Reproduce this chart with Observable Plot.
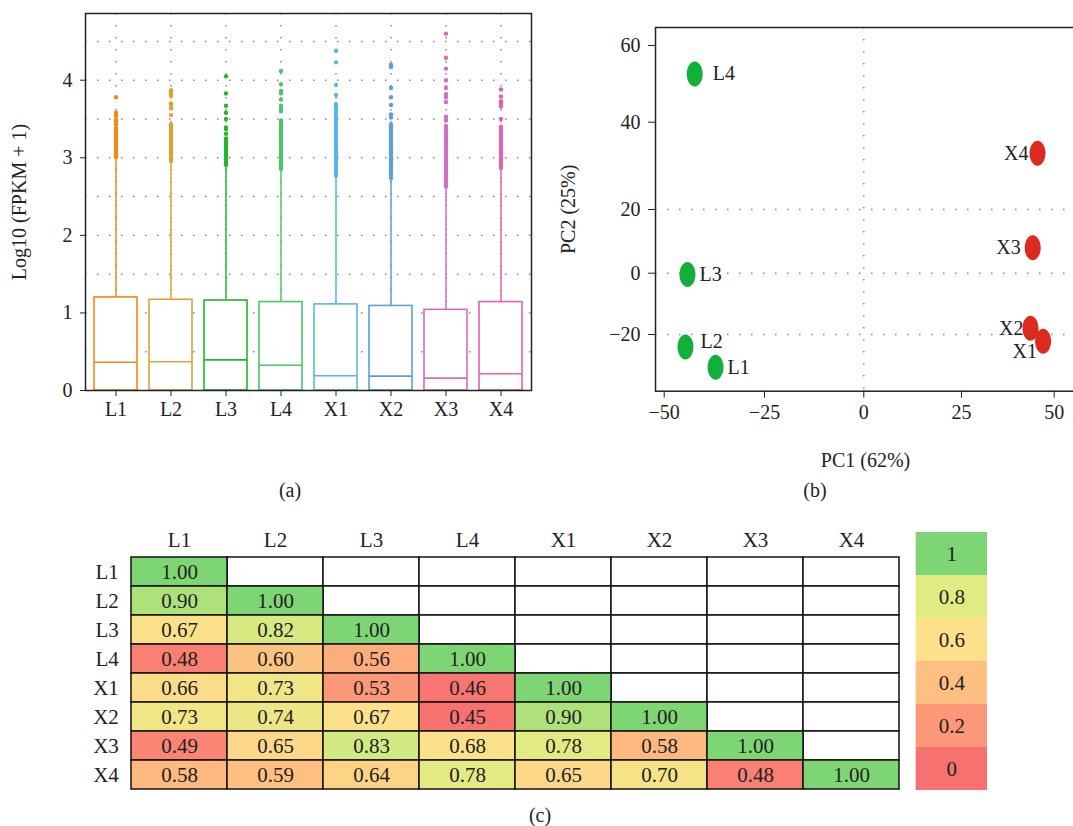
<!DOCTYPE html>
<html><head><meta charset="utf-8">
<script src="https://cdn.jsdelivr.net/npm/d3@7"></script>
<script src="https://cdn.jsdelivr.net/npm/@observablehq/plot@0.6"></script>
<style>
body{margin:0;background:#fff;}
#fig{position:relative;width:1073px;height:826px;overflow:hidden;background:#fff;font-family:"Liberation Serif",serif;color:#222;}
#fig svg{position:absolute;max-width:none;}
.cap{position:absolute;font-size:20px;width:40px;text-align:center;line-height:22px;}
</style></head><body><div id="fig"></div>
<script>
// ---------- Panel (a): box plots ----------
const samples = ["L1","L2","L3","L4","X1","X2","X3","X4"];
const sampleColors = ["#EE8B1A","#DCA236","#27B32F","#4DC466","#5AB7E3","#5A9FD8","#D56CC3","#E062B2"];
const boxQ3 = [1.20,1.17,1.16,1.14,1.11,1.09,1.04,1.14];
const boxMedian = [0.365,0.37,0.395,0.325,0.19,0.185,0.16,0.215];
const whiskerTop = [3.00,2.94,2.90,2.85,2.76,2.72,2.62,2.86];
const outL1 = [3.78,3.58,3.56,3.54,3.49,3.47,3.45,3.43,3.38,3.36,3.34,3.32,3.30,3.27,3.25,3.22,3.20,3.18,3.16,3.14,3.12,3.10,3.08,3.06,3.04,3.02,3.01];
const outL2 = [3.87,3.85,3.83,3.80,3.70,3.68,3.64,3.55,3.43,3.41,3.38,3.35,3.33,3.30,3.27,3.24,3.21,3.18,3.16,3.13,3.10,3.07,3.04,3.01,2.98,2.96];
const outL3 = [4.05,3.83,3.67,3.58,3.50,3.39,3.37,3.31,3.25,3.23,3.20,3.18,3.15,3.13,3.10,3.08,3.05,3.03,3.00,2.98,2.95,2.93,2.91];
const outL4 = [4.12,3.95,3.86,3.83,3.75,3.67,3.63,3.60,3.48,3.45,3.42,3.39,3.36,3.33,3.30,3.27,3.24,3.21,3.18,3.15,3.12,3.09,3.06,3.03,3.00,2.97,2.94,2.91,2.88,2.86];
const outX1 = [4.38,4.23,3.94,3.81,3.69,3.67,3.64,3.61,3.58,3.55,3.52,3.49,3.46,3.43,3.40,3.37,3.34,3.31,3.28,3.25,3.22,3.19,3.16,3.13,3.10,3.07,3.04,3.01,2.98,2.95,2.92,2.89,2.86,2.83,2.80,2.77];
const outX2 = [4.20,4.17,3.90,3.78,3.68,3.56,3.52,3.43,3.40,3.37,3.34,3.31,3.28,3.25,3.22,3.19,3.16,3.13,3.10,3.07,3.04,3.01,2.98,2.95,2.92,2.89,2.86,2.83,2.80,2.77,2.74];
const outX3 = [4.60,4.29,4.15,4.00,3.90,3.82,3.78,3.72,3.53,3.50,3.48,3.41,3.38,3.35,3.32,3.29,3.26,3.23,3.20,3.17,3.14,3.11,3.08,3.05,3.02,2.99,2.96,2.93,2.90,2.87,2.84,2.81,2.78,2.75,2.72,2.69,2.66,2.63];
const outX4 = [3.88,3.79,3.73,3.70,3.66,3.50,3.40,3.37,3.34,3.31,3.28,3.25,3.22,3.19,3.16,3.13,3.10,3.07,3.04,3.01,2.98,2.95,2.92,2.89,2.87];
const yTicksA = [0,1,2,3,4];
const yGridA = [0.5,1,1.5,2,2.5,3,3.5,4,4.5];

// ---------- Panel (b): PCA ----------
const pcaIds = ["L1","L2","L3","L4","X1","X2","X3","X4"];
const pc1 = [-37.2,-44.7,-44.2,-42.4,47.0,43.6,44.2,45.5];
const pc2 = [-30.7,-24.1,-0.4,52.6,-22.2,-18.0,8.0,32.9];
const pcaGroup = ["L","L","L","L","X","X","X","X"];
const pcaGroupColors = ["#12B03A","#DD2A1E"];
const xTicksB = [-50,-25,0,25,50];
const yTicksB = [-20,0,20,40,60];

// ---------- Panel (c): correlation heatmap ----------
const corrRows = [
  [1.00],
  [0.90,1.00],
  [0.67,0.82,1.00],
  [0.48,0.60,0.56,1.00],
  [0.66,0.73,0.53,0.46,1.00],
  [0.73,0.74,0.67,0.45,0.90,1.00],
  [0.49,0.65,0.83,0.68,0.78,0.58,1.00],
  [0.58,0.59,0.64,0.78,0.65,0.70,0.48,1.00]
];
const legendLabels = ["1","0.8","0.6","0.4","0.2","0"];
const legendColors = ["#7DD673","#E0EC82","#FDE08A","#FDC080","#FC9877","#F77171"];

// ---------- build tables ----------
const boxData = samples.map((s,i)=>({s, q3: boxQ3[i], median: boxMedian[i], whisk: whiskerTop[i]}));
const outArrays = [outL1,outL2,outL3,outL4,outX1,outX2,outX3,outX4];
const outData = samples.flatMap((s,i)=>outArrays[i].map(v=>({s, v})));
const pcaData = pcaIds.map((id,i)=>({id, x: pc1[i], y: pc2[i], g: pcaGroup[i]}));
const lower = [], upper = [];
samples.forEach((r,i)=>samples.forEach((c,j)=>{
  if (j <= i) lower.push({row: r, col: c, v: corrRows[i][j]});
  else upper.push({row: r, col: c});
}));

const fig = document.getElementById("fig");
const font = '"Liberation Serif", serif';
const dotted = "1.5,10.5";
const gridColor = "#8a8a8a";
const frameColor = "#222";
const baseStyle = (fs) => ({fontFamily: font, fontSize: fs, color: "#222", background: "transparent", overflow: "visible"});

function place(svg, left, top) {
  svg.style.left = left + "px";
  svg.style.top = top + "px";
  fig.appendChild(svg);
}

// Panel (a)
const plotA = Plot.plot({
  width: 540, height: 430,
  marginLeft: 85, marginRight: 9, marginTop: 13, marginBottom: 40,
  style: baseStyle("20px"),
  x: {domain: samples, paddingInner: 0.22, paddingOuter: 0.155},
  y: {domain: [0, 4.86]},
  color: {domain: samples, range: sampleColors},
  marks: [
    Plot.ruleY(yGridA, {stroke: gridColor, strokeWidth: 1.5, strokeDasharray: dotted}),
    Plot.ruleX(samples, {x: d=>d, stroke: gridColor, strokeWidth: 1.5, strokeDasharray: dotted}),
    Plot.ruleX(boxData, {x: "s", y1: "q3", y2: "whisk", stroke: "s", strokeWidth: 1.5}),
    Plot.barY(boxData, {x: "s", y1: 0, y2: "q3", fill: "white", stroke: "s", strokeWidth: 1.6}),
    Plot.tickY(boxData, {x: "s", y: "median", stroke: "s", strokeWidth: 1.6}),
    Plot.dot(outData, {x: "s", y: "v", fill: "s", r: 2.2}),
    Plot.frame({stroke: frameColor, strokeWidth: 1.5}),
    Plot.axisX({tickSize: 6, tickPadding: 5, label: null}),
    Plot.axisY({ticks: yTicksA, tickFormat: d => String(d), tickSize: 5, tickPadding: 8, label: "Log10 (FPKM + 1)", labelAnchor: "center", labelOffset: 74, labelArrow: false})
  ]
});
place(plotA, 0, 0);

// Panel (b)
const ellipse = {
  draw(context) {
    const rx = 8, ry = 12.5, k = 0.5523;
    context.moveTo(rx, 0);
    context.bezierCurveTo(rx, ry*k, rx*k, ry, 0, ry);
    context.bezierCurveTo(-rx*k, ry, -rx, ry*k, -rx, 0);
    context.bezierCurveTo(-rx, -ry*k, -rx*k, -ry, 0, -ry);
    context.bezierCurveTo(rx*k, -ry, rx, -ry*k, rx, 0);
    context.closePath();
  }
};
const labelPlacement = {
  L4: [18, 0, "start"], L3: [12, 0, "start"], L2: [15, -5, "start"], L1: [12, 0, "start"],
  X4: [-9, 0, "end"], X3: [-12, 0, "end"], X2: [-7, 0, "end"], X1: [-6, 10, "end"]
};
const plotB = Plot.plot({
  width: 540, height: 480,
  marginLeft: 115, marginRight: 5, marginTop: 27, marginBottom: 89.3,
  style: baseStyle("20px"),
  x: {type: "linear", domain: xTicksB, range: [123.7, 224, 323.3, 421, 513.7]},
  y: {type: "linear", domain: yTicksB, range: [334, 272.7, 209, 121.7, 45]},
  color: {domain: ["L","X"], range: pcaGroupColors},
  marks: [
    Plot.ruleX([0], {stroke: gridColor, strokeWidth: 1.5, strokeDasharray: dotted}),
    Plot.ruleY([20, 0, -20], {stroke: gridColor, strokeWidth: 1.5, strokeDasharray: dotted}),
    Plot.dot(pcaData, {x: "x", y: "y", fill: "g", symbol: ellipse, r: 8}),
    ...pcaIds.map(id => Plot.text(pcaData.filter(d => d.id === id), {
      x: "x", y: "y", text: "id", fill: "#222",
      dx: labelPlacement[id][0], dy: labelPlacement[id][1], textAnchor: labelPlacement[id][2]
    })),
    Plot.frame({stroke: frameColor, strokeWidth: 1.5}),
    Plot.axisX({ticks: xTicksB, tickSize: 7, tickPadding: 7, label: "PC1 (62%)", labelAnchor: "center", labelOffset: 76, labelArrow: false}),
    Plot.axisY({ticks: yTicksB, tickSize: 7, tickPadding: 8, label: "PC2 (25%)", labelAnchor: "center", labelOffset: 95, labelArrow: false})
  ]
});
place(plotB, 540, 0);

// Panel (c) heatmap
const plotC = Plot.plot({
  width: 905, height: 290,
  marginLeft: 128.3, marginRight: 4, marginTop: 45.7, marginBottom: 10,
  style: baseStyle("21px"),
  x: {domain: samples, padding: 0},
  y: {domain: samples, padding: 0},
  color: {type: "linear", domain: [0.45, 0.53, 0.59, 0.67, 0.80, 1.0], range: legendColors.slice().reverse()},
  marks: [
    Plot.cell(upper, {x: "col", y: "row", fill: "white", stroke: "#111", strokeWidth: 1.5, inset: 0}),
    Plot.cell(lower, {x: "col", y: "row", fill: "v", stroke: "#111", strokeWidth: 1.5, inset: 0}),
    Plot.text(lower, {x: "col", y: "row", text: d => d.v.toFixed(2), fill: "#222"}),
    Plot.axisX({anchor: "top", tickSize: 0, tickPadding: 9, label: null}),
    Plot.axisY({tickSize: 0, tickPadding: 10, label: null})
  ]
});
place(plotC, 0, 510);

// Panel (c) legend
const plotL = Plot.plot({
  width: 100, height: 280,
  marginLeft: 15.7, marginRight: 13, marginTop: 12, marginBottom: 9.3,
  style: baseStyle("21px"),
  y: {domain: legendLabels, padding: 0, axis: null},
  color: {domain: legendLabels, range: legendColors},
  marks: [
    Plot.cell(legendLabels, {y: d => d, fill: d => d, inset: 0}),
    Plot.text(legendLabels, {y: d => d, text: d => d, fill: "#222"})
  ]
});
place(plotL, 900, 520);

// captions
[["(a)", 270, 479], ["(b)", 795, 479], ["(c)", 520, 804]].forEach(([t, l, tp]) => {
  const d = document.createElement("div");
  d.className = "cap"; d.textContent = t;
  d.style.left = l + "px"; d.style.top = tp + "px";
  fig.appendChild(d);
});
</script></body></html>
